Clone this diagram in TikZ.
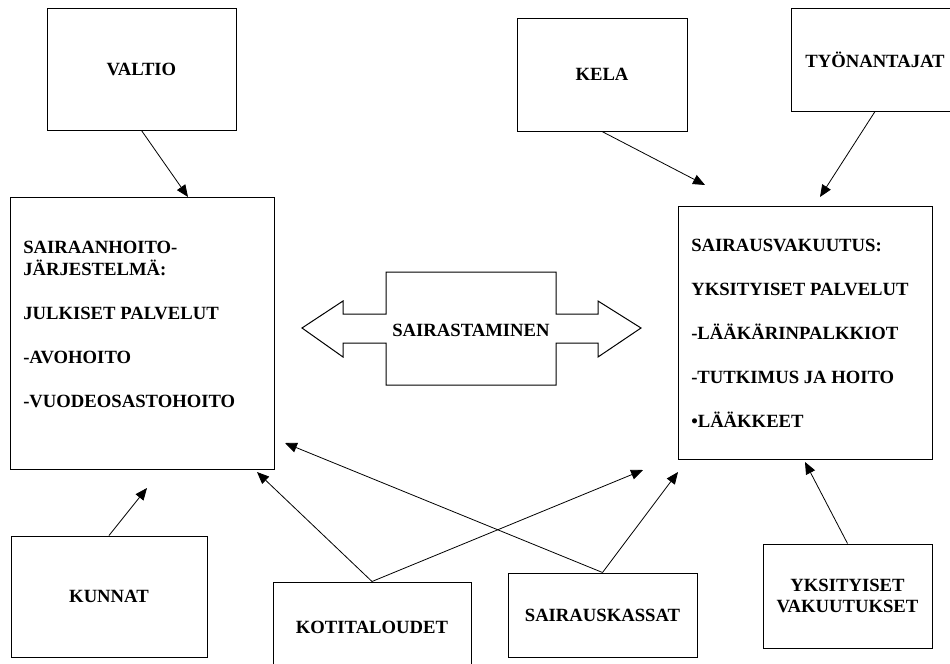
\documentclass[tikz,border=0pt]{standalone}
\usepackage{fontspec}
\setmainfont{Liberation Serif}
\usetikzlibrary{arrows.meta}

\tikzset{
  box/.style 2 args={draw, line width=0.75pt, inner sep=0pt,
    minimum width=#1*0.75pt, minimum height=#2*0.75pt,
    font=\bfseries\fontsize{14}{16}\selectfont, align=center},
  listtext/.style={inner sep=0pt, anchor=north west, align=left,
    font=\bfseries\fontsize{14}{16.5}\selectfont},
  arr/.style={-{Triangle[length=9pt,width=7.5pt]}, line width=0.6pt}
}

\begin{document}
\begin{tikzpicture}[x=0.75pt,y=0.75pt,yscale=-1,xscale=1]
	\useasboundingbox (0,0) rectangle (950,664);
	
	% top row
	\node [box={189}{122}] (valtio) at (141.5,69) {VALTIO};
	\node [box={170}{113}] (kela) at (602,74.5) {KELA};
	\node [box={168}{103}] (tyonantajat) at (875,59.5) {TYÖNANTAJAT};
	
	% main boxes
	\node [box={264}{272}] (hoito) at (142,333) {};
	\node [listtext] (hoitotext) at (23,241) {SAIRAANHOITO-\\JÄRJESTELMÄ:\\[16.5pt]JULKISET PALVELUT\\[16.5pt]-AVOHOITO\\[16.5pt]-VUODEOSASTOHOITO};
	\node [box={254}{253}] (vakuutus) at (805,332.5) {};
	\node [listtext] (vakuutustext) at (691,239) {SAIRAUSVAKUUTUS:\\[16.5pt]YKSITYISET PALVELUT\\[16.5pt]-LÄÄKÄRINPALKKIOT\\[16.5pt]-TUTKIMUS JA HOITO\\[16.5pt]•LÄÄKKEET};
	
	%Shape: double arrow
	\draw [line width=0.75pt] (302,328) -- (343,301) -- (343,314) -- (386,314) -- (386,272) -- (556,272) -- (556,314) -- (598,314) -- (598,301) -- (641,328) -- (598,357) -- (598,343) -- (556,343) -- (556,385) -- (386,385) -- (386,343) -- (343,343) -- (343,357) -- cycle;
	\node [font=\bfseries\fontsize{14}{16}\selectfont] (sairastaminen) at (471,330) {SAIRASTAMINEN};
	
	% bottom row
	\node [box={196}{121}] (kunnat) at (109,596.5) {KUNNAT};
	\node [box={198}{90}] (kotitaloudet) at (372,627) {KOTITALOUDET};
	\node [box={189}{84}] (kassat) at (602.5,615) {SAIRAUSKASSAT};
	\node [box={169}{104}, font=\bfseries\fontsize{14}{15.75}\selectfont] (yksityiset) at (847.5,596) {YKSITYISET\\VAKUUTUKSET};
	
	% arrow ends
	\coordinate (valtio-end) at (188,197);
	\coordinate (kela-end) at (705,185);
	\coordinate (tyon-end) at (820,197);
	\coordinate (kunnat-end) at (147,488);
	\coordinate (koti-end1) at (257,472);
	\coordinate (koti-end2) at (643,470);
	\coordinate (kassat-end1) at (285,443);
	\coordinate (kassat-end2) at (678,472);
	\coordinate (yks-end) at (805,462);
	
	\draw [arr] (valtio.south) -- (valtio-end);
	\draw [arr] (kela.south) -- (kela-end);
	\draw [arr] (tyonantajat.south) -- (tyon-end);
	\draw [arr] (kunnat.north) -- (kunnat-end);
	\draw [arr] (kotitaloudet.north) -- (koti-end1);
	\draw [arr] (kotitaloudet.north) -- (koti-end2);
	\draw [arr] (kassat.north) -- (kassat-end1);
	\draw [arr] (kassat.north) -- (kassat-end2);
	\draw [arr] (yksityiset.north) -- (yks-end);
	
\end{tikzpicture}
\end{document}
